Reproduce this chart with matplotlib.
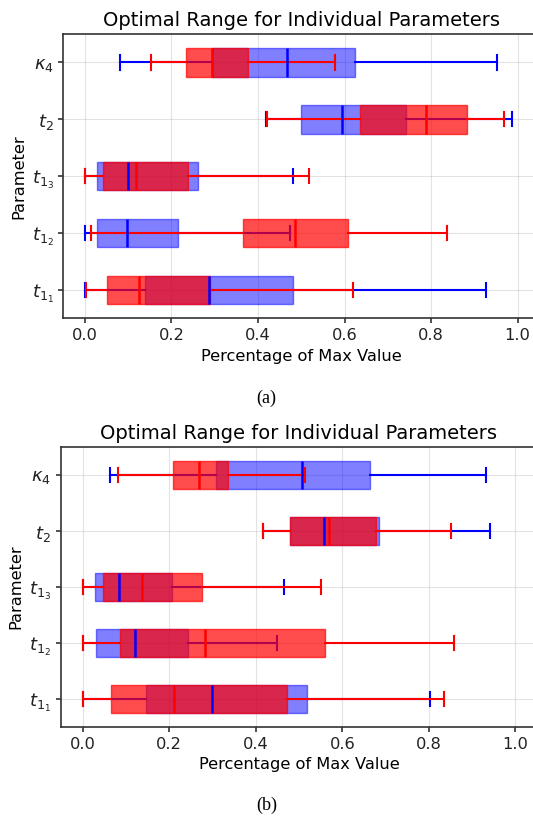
import matplotlib
matplotlib.use("Agg")
import matplotlib.pyplot as plt

# parameter order from bottom to top
params = [r"$t_{1_1}$", r"$t_{1_2}$", r"$t_{1_3}$", r"$t_2$", r"$\kappa_4$"]

# (a) values: whislo, q1, median, q3, whishi
a_red_lo = [0.002, 0.014, 0.0, 0.420, 0.152]
a_red_q1 = [0.052, 0.366, 0.041, 0.636, 0.233]
a_red_med = [0.124, 0.485, 0.119, 0.789, 0.294]
a_red_q3 = [0.290, 0.607, 0.239, 0.883, 0.376]
a_red_hi = [0.620, 0.836, 0.517, 0.969, 0.577]

a_blue_lo = [0.0, 0.0, 0.0, 0.418, 0.080]
a_blue_q1 = [0.139, 0.029, 0.029, 0.499, 0.294]
a_blue_med = [0.286, 0.098, 0.100, 0.593, 0.467]
a_blue_q3 = [0.480, 0.216, 0.262, 0.742, 0.623]
a_blue_hi = [0.927, 0.474, 0.481, 0.986, 0.953]

# (b)
b_red_lo = [0.0, 0.0, 0.0, 0.417, 0.082]
b_red_q1 = [0.066, 0.087, 0.048, 0.479, 0.209]
b_red_med = [0.212, 0.283, 0.138, 0.570, 0.268]
b_red_q3 = [0.473, 0.560, 0.275, 0.679, 0.335]
b_red_hi = [0.834, 0.859, 0.551, 0.852, 0.513]

b_blue_lo = [0.0, 0.0, 0.0, 0.417, 0.063]
b_blue_q1 = [0.146, 0.030, 0.029, 0.479, 0.308]
b_blue_med = [0.300, 0.121, 0.083, 0.558, 0.507]
b_blue_q3 = [0.518, 0.244, 0.207, 0.684, 0.664]
b_blue_hi = [0.803, 0.450, 0.466, 0.941, 0.932]


def make_stats(lo, q1, med, q3, hi):
    return [dict(whislo=lo[i], q1=q1[i], med=med[i], q3=q3[i], whishi=hi[i], fliers=[])
            for i in range(len(lo))]


def draw_boxes(ax, stats, color, alpha):
    ax.bxp(stats, positions=range(1, len(stats) + 1), vert=False, widths=0.5,
           patch_artist=True, showfliers=False,
           boxprops=dict(facecolor=color, edgecolor=color, alpha=alpha),
           whiskerprops=dict(color=color, linewidth=1.5),
           capprops=dict(color=color, linewidth=1.5),
           medianprops=dict(color=color, linewidth=1.8))


def setup(ax):
    ax.set_xlim(-0.05, 1.05)
    ax.set_ylim(0.5, 5.5)
    ax.set_yticks(range(1, len(params) + 1))
    ax.set_yticklabels(params, fontsize=13)
    ax.set_xticks([0.0, 0.2, 0.4, 0.6, 0.8, 1.0])
    ax.tick_params(axis="x", labelsize=11.7)
    ax.tick_params(colors="#222222", width=1.1)
    ax.grid(True, alpha=0.35)
    for s in ax.spines.values():
        s.set_color("#333333")
        s.set_linewidth(1.2)
    ax.spines["right"].set_visible(False)
    ax.set_title("Optimal Range for Individual Parameters", fontsize=14)
    ax.set_xlabel("Percentage of Max Value", fontsize=11.7)
    ax.set_ylabel("Parameter", fontsize=11.7)


W, H = 533, 819
fig = plt.figure(figsize=(W / 100, H / 100), dpi=100)

ax1 = fig.add_axes([63.3 / W, 1 - 318.5 / H, 476 / W, 284.5 / H])
draw_boxes(ax1, make_stats(a_blue_lo, a_blue_q1, a_blue_med, a_blue_q3, a_blue_hi), "blue", 0.5)
draw_boxes(ax1, make_stats(a_red_lo, a_red_q1, a_red_med, a_red_q3, a_red_hi), "red", 0.7)
setup(ax1)

ax2 = fig.add_axes([61 / W, 1 - 727 / H, 476 / W, 280 / H])
draw_boxes(ax2, make_stats(b_blue_lo, b_blue_q1, b_blue_med, b_blue_q3, b_blue_hi), "blue", 0.5)
draw_boxes(ax2, make_stats(b_red_lo, b_red_q1, b_red_med, b_red_q3, b_red_hi), "red", 0.7)
setup(ax2)

fig.text(0.5, 1 - 398 / H, "(a)", ha="center", va="center", family="Liberation Serif", fontsize=13)
fig.text(0.5, 1 - 805 / H, "(b)", ha="center", va="center", family="Liberation Serif", fontsize=13)

fig.savefig("out.png", dpi=100)
